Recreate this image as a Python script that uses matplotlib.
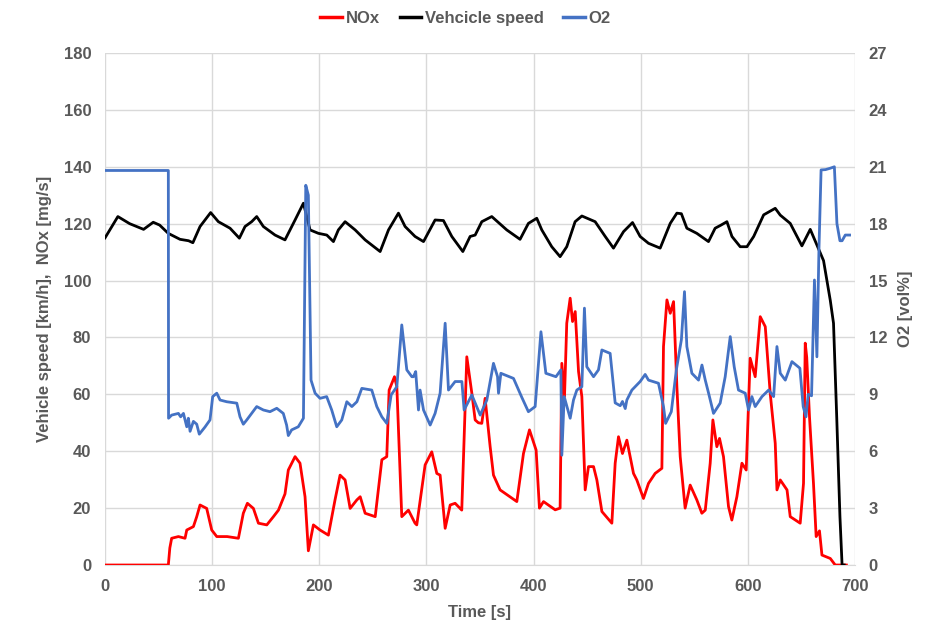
import numpy as np
import matplotlib
matplotlib.use("Agg")
import matplotlib.pyplot as plt
from matplotlib.lines import Line2D

plt.rcParams['font.family'] = ['Liberation Sans', 'DejaVu Sans']

# vehicle speed [km/h]
speed_t = [0, 12, 23, 36, 45, 51, 59, 70, 78, 82, 88.7, 98.6, 105.8, 116.7, 125.4, 130.7,
           136.9, 141.6, 147.8, 158.7, 168, 172.7, 177.4, 185.2, 191.4, 199.2, 207, 213.2,
           217.8, 224.1, 233.5, 242.8, 256.8, 264.6, 273.9, 280.1, 289.4, 297.3, 308.1,
           315.9, 323.7, 334, 340.8, 345.5, 351.7, 361, 375, 387.4, 395.2, 403, 407.7, 417,
           424.8, 431, 438.8, 445.1, 457.5, 466.9, 474.6, 484, 492.4, 499.5, 507.3, 518.2,
           527.6, 533.8, 538, 543.1, 552.4, 563.3, 569.5, 575, 580.5, 585.2, 592.9, 599.2,
           605.5, 614.8, 625.6, 630.3, 639.6, 650.5, 658.3, 664.5, 670.7, 677, 680, 683, 686,
           688, 690]
speed_v = [115, 122.5, 120, 118, 120.5, 119.5, 116.6, 114.5, 114, 113.3, 119, 123.9, 120.7, 118.4, 114.9, 119,
           120.7, 122.5, 119, 116, 114.3, 117.8, 121.3, 127.2, 117.8, 116.6, 116, 113.7,
           117.8, 120.7, 117.8, 114.3, 110.2, 117.8, 123.7, 119, 115.5, 113.7, 121.3,
           121.1, 115.5, 110.2, 115.5, 116, 120.7, 122.5, 117.8, 114.5, 120.1, 121.9, 117.8, 111.9,
           108.4, 111.9, 120.7, 122.7, 120.7, 115.5, 111.4, 117.2, 120.4, 115.5, 113.1, 111.4,
           120.1, 123.7, 123.5, 118.4, 116.6, 113.7, 118.4, 119.5, 120.7, 115.5, 111.9, 111.9,
           115.5, 123.1, 125.4, 123, 120.1, 112.2, 118, 112.5, 107, 93, 85, 52, 17,
           0, 0]

# NOx [mg/s]
nox_t = [0, 59.1, 60.5, 62.2, 68.5, 74.7, 76.3, 82.5, 85.6, 88.7, 94.9, 99.6, 104.3, 114,
         124.5, 129.1, 132.9, 138.5, 143.2, 151, 157.2, 161.9, 168, 171.1, 177.4, 182, 186.7,
         189.8, 194.5, 200.7, 208.5, 214.7, 219.4, 224.1, 228.8, 235.1, 238.2, 242.8, 252.2,
         258.4, 263, 265.2, 270.2, 272.4, 277, 283.2, 289.4, 291, 298.8, 305, 309.7, 312.8,
         317.5, 322.2, 326.8, 333, 337.7, 342.4, 345.5, 348.5, 351.7, 354.8, 359.5, 362.6,
         368.8, 384.4, 390.6, 396.2, 402.4, 405.5, 409.3, 420.2, 424.8, 426.4, 428.9, 431,
         434.2, 436.4, 438.9, 442, 445.1, 448.2, 451.3, 456, 459.1, 463.8, 473.1, 476.2,
         479.3, 483, 487.1, 493.3, 496.4, 502.6, 507.3, 513.5, 519.8, 521.3, 524.5, 527.6,
         530.7, 533.8, 536.9, 541.5, 546.2, 552.4, 557.1, 560.3, 564.9, 567.4, 571.1, 573.6,
         577.3, 582, 585.1, 589.8, 594.5, 598.5, 602.2, 606.9, 611.6, 616.3, 620.9, 625.6,
         627.2, 630.3, 636.6, 639.6, 648.9, 652, 653.6, 655, 657.6, 661.3, 663.8, 666.9,
         669.2, 677, 681.6, 692]
nox_v = [0, 0, 6, 9.4, 10, 9.4, 12.3, 13.5, 17, 21.1, 19.9, 12.3, 10, 10,
         9.4, 18.2, 21.7, 19.9, 14.7, 14.1, 17, 19.3, 25, 33.4, 38.1, 35.8, 24,
         5, 14.1, 12.3, 10.5, 22.9, 31.6, 29.9, 19.9, 22.9, 24, 18.2, 17,
         37, 38.1, 61.5, 66.2, 62.7, 17, 19.3, 14.7, 14.1, 35.2, 39.8, 32.2, 31.6,
         12.9, 21.1, 21.7, 19.3, 73.2, 60.4, 51, 50, 49.8, 58.6, 41.6, 31.6,
         26.4, 22.3, 39.2, 47.5, 40.4, 20, 22.3, 19.4, 20, 70.9, 59.2, 85,
         93.8, 85.6, 89.1, 68, 59.2, 26.4, 34.6, 34.6, 29.9, 18.8, 14.7, 35.8,
         45.1, 39.2, 43.9, 32.2, 29.9, 23.4, 28.7, 32.2, 34, 76.8, 93.2, 88.5,
         92.6, 62.7, 38.1, 20, 28.1, 22.9, 18.2, 19.3, 35.8, 51, 41.6, 44.5,
         38.1, 20.5, 15.8, 24, 35.8, 33.4, 72.7, 66.2, 87.3, 83.8, 60.4, 42.8,
         26.4, 29.9, 26.4, 17, 14.7, 28.7, 78, 73, 52, 28.7, 10, 12,
         3.5, 2.3, 0, 0]

# O2, read against the left scale and converted to vol% below
o2_t = [0, 59.1, 59.3, 62.2, 68.5, 70.6, 73.2, 76.3, 77.8, 79.4, 82.5, 85.6, 88, 93.3, 98,
        100.5, 104.3, 107.4, 113.6, 123, 126, 129.1, 132.3, 136.9, 141.6, 147.8, 154, 160.3,
        166.4, 169.5, 171.1, 174.2, 180.4, 185.2, 187.4, 189.8, 192.3, 196.1, 200.7, 206.9,
        211.6, 216.3, 221, 225.7, 230.4, 235.1, 239.7, 249, 253.7, 258.4, 263, 267.1, 272.4,
        277, 281.7, 286.4, 287.9, 290, 292.6, 294.1, 297.3, 303.5, 308.1, 312.8, 317.5, 320.6,
        326.8, 333.1, 335.2, 342.4, 350.2, 356.4, 362.6, 366.4, 367.3, 369.5, 381.3, 389.1,
        395.2, 401.5, 406.9, 411.5, 420.9, 425.5, 426.4, 428.6, 434.2, 437.3, 440.4, 445.1,
        447.5, 449.7, 456, 460.6, 463.8, 471.5, 476.2, 480.9, 483, 485.6, 487.1, 491.8, 499.5,
        504.2, 507.3, 516.6, 521.3, 523.3, 528.6, 533.3, 538, 540.9, 543.1, 547.8, 554, 557.2,
        560.3, 563.4, 568, 574.2, 578.9, 583.6, 587.3, 591.3, 597.6, 600.7, 603.8, 606.9,
        613.2, 619.4, 624.1, 627.2, 630.3, 635, 641.2, 648.6, 651.7, 654.3, 656.4, 659.5,
        662.2, 664.5, 666.4, 668.4, 672.5, 677, 680.8, 683.2, 686, 688, 691, 695]
o2_left = [138.7, 138.7, 51.6, 52.7, 53.3, 52.1, 53.3, 48.6, 51.6, 47, 50.5, 49.5, 46, 48.5, 51,
           59.2, 60.4, 58, 57.4, 56.9, 52.1, 49.5, 51, 53.3, 55.7, 54.5, 53.9, 55.1,
           53.3, 49.2, 45.5, 47.5, 48.6, 51.6, 133.5, 130, 65, 60.4, 58.6, 59.2,
           54.5, 48.6, 51, 57.4, 55.7, 57.4, 62.1, 61.5, 55.7, 52.1, 49.8, 59.8, 62.7,
           84.4, 68.6, 66.2, 66.2, 68, 54.5, 61.5, 54.5, 49.2, 53.3, 60.4, 85, 61.5,
           64.5, 64.5, 54.5, 59.8, 52.7, 58, 70.9, 66.2, 60.4, 67.4, 65.6, 58.9,
           53.9, 55.7, 82, 67.4, 66.2, 68.6, 38.6, 59.2, 51.6, 58, 61.5, 62.7,
           90.3, 69.7, 66.2, 68.6, 75.6, 74.4, 57, 56, 57.5, 55, 58, 61.5, 64.5,
           67, 65, 63.9, 55.7, 49.8, 53.9, 68.6, 79.2, 96.1, 76.8, 67.4, 65, 70.3,
           65, 60.4, 53.3, 56.9, 66.2, 80.3, 69.7, 61.5, 60.4, 54.5, 59.2, 55.7,
           59.2, 61.5, 59.2, 76.8, 67.4, 65, 71.5, 69.2, 55.7, 52.1, 60, 59.5,
           100.2, 73.2, 110.8, 138.9, 139, 139.5, 140, 120, 114, 114, 116, 116]
o2_v = np.array(o2_left) * 27 / 180

gray = '#595959'
grid_c = '#d9d9d9'

fig = plt.figure(figsize=(9.31, 6.28), dpi=100)
ax = fig.add_axes([0.1128, 0.1003, 0.8055, 0.8153])
ax2 = ax.twinx()

ax.plot(nox_t, nox_v, color='#ff0000', lw=2.0, zorder=3)
ax.plot(speed_t, speed_v, color='black', lw=2.0, zorder=3)
ax2.plot(o2_t, o2_v, color='#4472c4', lw=2.0)

ax.set_xlim(0, 700)
ax.set_ylim(0, 180)
ax2.set_ylim(0, 27)
ax.set_xticks(np.arange(0, 701, 100))
ax.set_yticks(np.arange(0, 181, 20))
ax2.set_yticks(np.arange(0, 28, 3))

ax.grid(True, color=grid_c, lw=1.0)
ax.set_axisbelow(True)
for a in (ax, ax2):
    for s in a.spines.values():
        s.set_visible(False)
    a.tick_params(length=0, labelsize=12, labelcolor=gray, pad=10)
    for lab in a.get_xticklabels() + a.get_yticklabels():
        lab.set_fontweight('bold')
ax.spines['bottom'].set_visible(True)
ax.spines['bottom'].set_color(grid_c)

ax.set_xlabel('Time [s]', fontsize=12, fontweight='bold', color=gray, labelpad=8)
ax.set_ylabel('Vehicle speed [km/h],  NOx [mg/s]', fontsize=12, fontweight='bold', color=gray, labelpad=8)
ax2.set_ylabel('O2 [vol%]', fontsize=12, fontweight='bold', color=gray, labelpad=8)

handles = [Line2D([], [], color='#ff0000', lw=2.5),
           Line2D([], [], color='black', lw=2.5),
           Line2D([], [], color='#4472c4', lw=2.5)]
fig.legend(handles, ['NOx', 'Vehcicle speed', 'O2'], loc='center', bbox_to_anchor=(0.5, 0.971),
           ncol=3, frameon=False, handlelength=1.3, handletextpad=0.2, columnspacing=1.2,
           prop={'weight': 'bold', 'size': 12}, labelcolor=gray)

fig.savefig('out.png', dpi=100)
